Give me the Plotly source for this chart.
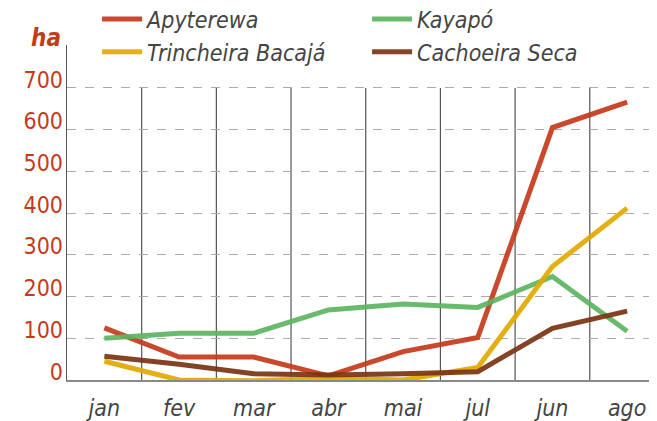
import plotly.graph_objects as go

months = ["jan", "fev", "mar", "abr", "mai", "jul", "jun", "ago"]
apyterewa = [125, 55, 55, 10, 68, 102, 605, 666]
kayapo = [100, 112, 112, 168, 182, 174, 248, 117]
trincheira = [45, 0, -2, 5, 0, 30, 272, 412]
cachoeira = [57, 38, 15, 12, 15, 20, 124, 165]
y_ticks = [0, 100, 200, 300, 400, 500, 600, 700]

series = [
    ("Apyterewa", apyterewa, "#c63a1c"),
    ("Kayapó", kayapo, "#5cb560"),
    ("Trincheira Bacajá", trincheira, "#e2a900"),
    ("Cachoeira Seca", cachoeira, "#7b3413"),
]

FONT = "DejaVu Sans Condensed, Liberation Sans Narrow, sans-serif"
Y_MAX = 803
LABEL_LIFT = 20.4  # labels sit just above their gridlines

fig = go.Figure()
for name, vals, col in series:
    fig.add_trace(go.Scatter(
        x=list(range(len(months))), y=vals, name=name, mode="lines",
        line=dict(color=col, width=5), opacity=0.92,
    ))
# helper axis carrying the tick labels
fig.add_trace(go.Scatter(x=[None], y=[None], yaxis="y2", showlegend=False,
                         hoverinfo="skip"))

# vertical separators between months
for i in range(len(months) - 1):
    fig.add_shape(type="line", xref="x", yref="y", x0=i + 0.5, x1=i + 0.5,
                  y0=0, y1=700, line=dict(color="#555", width=1.2), layer="below")

fig.update_layout(
    width=657, height=421,
    margin=dict(l=59, r=8, t=37, b=49, autoexpand=False),
    paper_bgcolor="white", plot_bgcolor="white",
    font=dict(family=FONT, color="#444"),
    xaxis=dict(
        range=[-0.5, 7.4], tickmode="array", tickvals=list(range(len(months))),
        ticktext=months, showgrid=False, zeroline=False, automargin=False,
        showline=True, linecolor="#888", linewidth=2,
        tickfont=dict(size=23, color="#444", style="italic"), ticks="",
        ticklabelstandoff=6,
    ),
    yaxis=dict(
        range=[0, Y_MAX], tickmode="array", tickvals=y_ticks, automargin=False,
        showgrid=True, gridcolor="#aaa", griddash="dash", gridwidth=1,
        zeroline=False, showline=True, linecolor="#555", linewidth=1,
        showticklabels=False, ticks="",
    ),
    yaxis2=dict(
        overlaying="y", side="left", range=[-LABEL_LIFT, Y_MAX - LABEL_LIFT],
        tickmode="array", tickvals=y_ticks, automargin=False,
        showgrid=False, zeroline=False, showline=False, ticks="",
        tickfont=dict(size=23, color="#c63a1c"), ticklabelstandoff=3,
    ),
    legend=dict(
        orientation="h", x=0.051, y=1.142, xref="paper", yref="paper",
        xanchor="left", yanchor="top",
        font=dict(size=23, color="#444", style="italic"),
        entrywidth=215, entrywidthmode="pixels",
        traceorder="normal", tracegroupgap=0, itemwidth=40,
    ),
    annotations=[dict(
        text="<b><i>ha</i></b>", xref="paper", yref="paper", x=-0.006, y=0.973,
        xanchor="right", yanchor="bottom", showarrow=False,
        font=dict(size=24, color="#c63a1c"),
    )],
)

fig.write_html("out.html")
